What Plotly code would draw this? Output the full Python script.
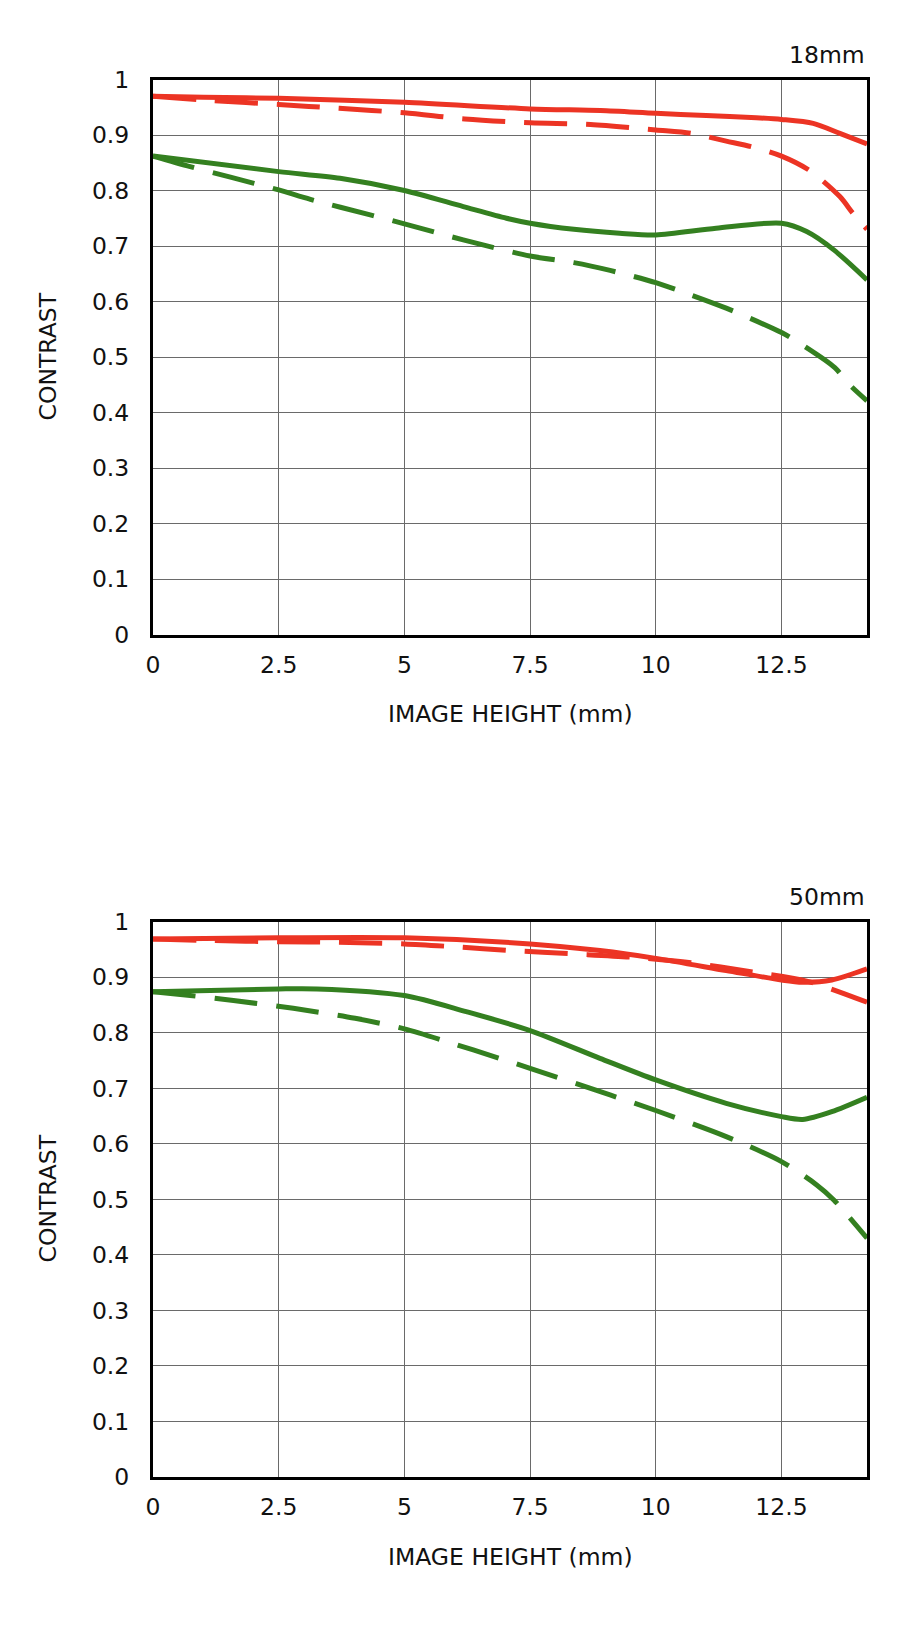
import plotly.graph_objects as go

# ---- 18mm ----
x18_red_solid = [0, 1, 2.5, 5, 7.5, 8.9, 10, 11, 12, 12.5, 13.13, 13.66, 14.2]
y18_red_solid = [0.970, 0.968, 0.966, 0.959, 0.947, 0.944, 0.939, 0.935, 0.931, 0.928, 0.921, 0.903, 0.884]
x18_red_dash = [0, 1.2, 2.5, 3.7, 5, 6.2, 7.5, 8.7, 10, 10.7, 11.4, 11.9, 12.5, 13.06, 13.66, 13.92, 14.2]
y18_red_dash = [0.970, 0.962, 0.955, 0.948, 0.940, 0.929, 0.922, 0.919, 0.909, 0.903, 0.889, 0.879, 0.862, 0.836, 0.789, 0.759, 0.730]
x18_green_solid = [0, 2.5, 3.72, 5, 6.17, 7.03, 7.5, 8.37, 9.28, 10, 11.2, 12.5, 13.0, 13.54, 14.2]
y18_green_solid = [0.862, 0.834, 0.822, 0.800, 0.771, 0.750, 0.741, 0.730, 0.723, 0.720, 0.732, 0.741, 0.726, 0.693, 0.639]
x18_green_dash = [0, 0.74, 1.54, 2.5, 3.13, 4.32, 5, 6.17, 7.5, 8.37, 9.09, 10, 10.6, 11.4, 12.5, 12.86, 13.56, 13.82, 14.2]
y18_green_dash = [0.862, 0.843, 0.824, 0.801, 0.784, 0.756, 0.740, 0.711, 0.682, 0.670, 0.656, 0.634, 0.615, 0.588, 0.544, 0.525, 0.481, 0.453, 0.421]

# ---- 50mm ----
x50_red_solid = [0, 2.5, 5, 7.5, 8.89, 10, 11.4, 12.5, 12.92, 13.5, 14.2]
y50_red_solid = [0.969, 0.971, 0.971, 0.960, 0.948, 0.934, 0.912, 0.895, 0.891, 0.895, 0.915]
x50_red_dash = [0, 1.19, 2.5, 3.7, 5, 5.97, 7.13, 8.37, 9.52, 10.7, 11.89, 13.0, 14.2]
y50_red_dash = [0.969, 0.966, 0.964, 0.963, 0.960, 0.955, 0.948, 0.942, 0.936, 0.926, 0.910, 0.893, 0.855]
x50_green_solid = [0, 2.5, 3.26, 5, 6.23, 7.5, 8.89, 10, 11.4, 12.5, 12.92, 13.5, 14.2]
y50_green_solid = [0.874, 0.879, 0.879, 0.867, 0.838, 0.804, 0.754, 0.715, 0.673, 0.649, 0.644, 0.658, 0.684]
x50_green_dash = [0, 0.74, 1.6, 2.79, 4.02, 5, 6.37, 7.5, 9.09, 10, 11.4, 12.5, 13.2, 13.54, 14.2]
y50_green_dash = [0.874, 0.867, 0.858, 0.844, 0.826, 0.807, 0.769, 0.736, 0.688, 0.660, 0.613, 0.568, 0.526, 0.499, 0.430]

x_ticks = [0, 2.5, 5, 7.5, 10, 12.5]
x_tick_labels = ["0", "2.5", "5", "7.5", "10", "12.5"]
y_ticks = [0, 0.1, 0.2, 0.3, 0.4, 0.5, 0.6, 0.7, 0.8, 0.9, 1]
y_tick_labels = ["0", "0.1", "0.2", "0.3", "0.4", "0.5", "0.6", "0.7", "0.8", "0.9", "1"]
panel_titles = ["18mm", "50mm"]

RED = "rgb(236,52,36)"
GREEN = "rgb(52,128,32)"
FONT = "DejaVu Sans"
FS = 23.5
W, H = 918, 1634
DASH = "43px,19px"
LW = 5

fig = go.Figure()

def add(x, y, color, dash, xa, ya):
    fig.add_trace(go.Scatter(x=x, y=y, mode="lines", xaxis=xa, yaxis=ya,
                             line=dict(color=color, width=LW, dash=dash,
                                       shape="spline", smoothing=0.8),
                             showlegend=False, hoverinfo="skip"))

add(x18_green_dash, y18_green_dash, GREEN, DASH, "x", "y")
add(x18_green_solid, y18_green_solid, GREEN, "solid", "x", "y")
add(x18_red_dash, y18_red_dash, RED, DASH, "x", "y")
add(x18_red_solid, y18_red_solid, RED, "solid", "x", "y")

add(x50_green_dash, y50_green_dash, GREEN, DASH, "x2", "y2")
add(x50_green_solid, y50_green_solid, GREEN, "solid", "x2", "y2")
add(x50_red_solid, y50_red_solid, RED, "solid", "x2", "y2")
add(x50_red_dash, y50_red_dash, RED, DASH, "x2", "y2")

xdom = [153 / W, 867 / W]
ydom1 = [(H - 634.5) / H, (H - 79.5) / H]
ydom2 = [(H - 1477) / H, (H - 921.7) / H]

xcommon = dict(range=[0, 14.2], tickvals=x_ticks, ticktext=x_tick_labels,
               showgrid=True, gridcolor="#6a6a6a", gridwidth=1.2,
               showline=True, linecolor="black", linewidth=3, mirror=True,
               ticks="", ticklabelstandoff=7, zeroline=False, automargin=False,
               tickfont=dict(family=FONT, size=FS, color="#111"), fixedrange=True)
ycommon = dict(range=[0, 1], tickvals=y_ticks, ticktext=y_tick_labels,
               showgrid=True, gridcolor="#6a6a6a", gridwidth=1.2,
               showline=True, linecolor="black", linewidth=3, mirror=True,
               ticks="", ticklabelstandoff=16, zeroline=False, automargin=False,
               tickfont=dict(family=FONT, size=FS, color="#111"), fixedrange=True)

fig.update_layout(
    width=W, height=H,
    margin=dict(l=0, r=0, t=0, b=0),
    paper_bgcolor="white", plot_bgcolor="white",
    xaxis=dict(domain=xdom, anchor="y", **xcommon),
    yaxis=dict(domain=ydom1, anchor="x", **ycommon),
    xaxis2=dict(domain=xdom, anchor="y2", **xcommon),
    yaxis2=dict(domain=ydom2, anchor="x2", **ycommon),
)

def ann(text, x, y, xanchor="center", yanchor="middle", angle=0):
    fig.add_annotation(text=text, xref="paper", yref="paper", x=x / W, y=(H - y) / H,
                       xanchor=xanchor, yanchor=yanchor, showarrow=False, textangle=angle,
                       font=dict(family=FONT, size=FS, color="#111"))

ann(panel_titles[0], 867, 54.5, xanchor="right")
ann(panel_titles[1], 867, 896.7, xanchor="right")
ann("IMAGE HEIGHT (mm)", 510, 714)
ann("IMAGE HEIGHT (mm)", 510, 1556.5)
ann("CONTRAST", 47.5, 357, angle=-90)
ann("CONTRAST", 47.5, 1199, angle=-90)

fig.write_html("out.html", config={"displayModeBar": False},
               post_script="document.body.style.margin='0';document.body.style.overflow='hidden';")
